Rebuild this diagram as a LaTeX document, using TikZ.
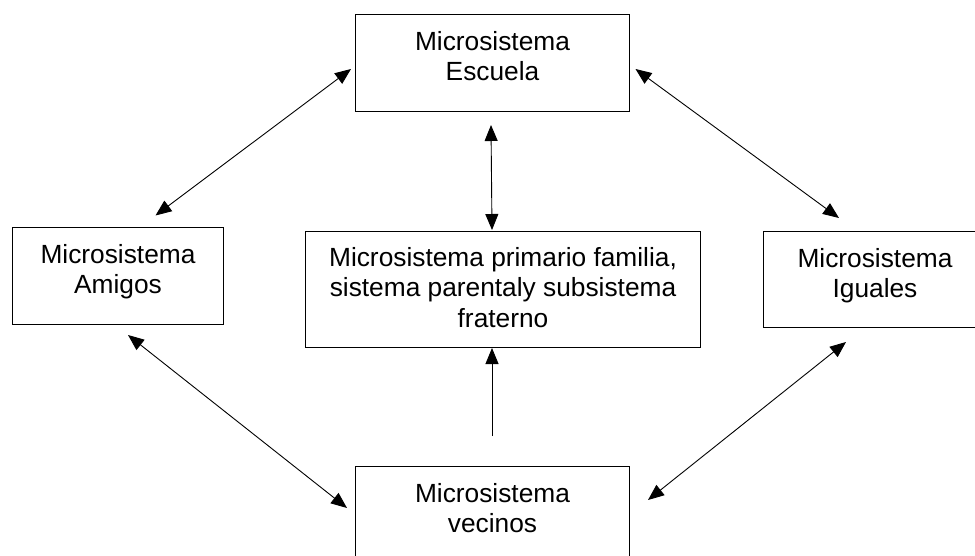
\documentclass[tikz,border=0pt]{standalone}
\usepackage{fontspec}
\setmainfont{Liberation Sans}
\usetikzlibrary{arrows.meta}
\tikzset{
  x=1pt, y=-1pt,
  boxnode/.style={draw=black, line width=1pt, rectangle, inner sep=0pt, anchor=north west},
  txt/.style={anchor=north, inner sep=0pt, align=center, font=\fontsize{26.3}{30.5}\selectfont},
  link/.style={line width=0.9pt, {Triangle[length=16pt,width=13pt]}-{Triangle[length=16pt,width=13pt]}},
  uplink/.style={line width=0.9pt, -{Triangle[length=16pt,width=13pt]}}
}
\begin{document}
\begin{tikzpicture}
\useasboundingbox (0,0) rectangle (975,556);
\clip (0,0) rectangle (975,556);
% boxes
\node[boxnode, minimum width=274pt, minimum height=97pt] (esc) at (355,14) {};
\node[boxnode, minimum width=211pt, minimum height=97pt] (ami) at (12,227) {};
\node[boxnode, minimum width=395pt, minimum height=116pt] (cen) at (305,231) {};
\node[boxnode, minimum width=223pt, minimum height=96pt] (igu) at (763,231) {};
\node[boxnode, minimum width=274pt, minimum height=110pt] (vec) at (355,466) {};
% texts
\node[txt] (escT) at ([yshift=-17pt]esc.north) {Microsistema\\Escuela};
\node[txt] (amiT) at ([yshift=-17pt]ami.north) {Microsistema\\Amigos};
\node[txt] (cenT) at ([yshift=-16pt]cen.north) {Microsistema primario familia,\\sistema parentaly subsistema\\fraterno};
\node[txt] (iguT) at ([yshift=-17pt]igu.north) {Microsistema\\Iguales};
\node[txt] (vecT) at ([yshift=-17pt]vec.north) {Microsistema\\vecinos};
% arrow end points
\coordinate (e1) at (351,69);
\coordinate (a1) at (155.5,215.5);
\coordinate (e2) at (635.5,69);
\coordinate (i1) at (839,218);
\coordinate (e3) at (491,125);
\coordinate (c1) at (492,230);
\coordinate (a2) at (128,335);
\coordinate (v1) at (347,508);
\coordinate (i2) at (846,342);
\coordinate (v2) at (648,500);
\coordinate (v3) at (492,436);
\coordinate (c2) at (492,348);
% connectors
\draw[link] (a1) -- (e1);
\draw[link] (e2) -- (i1);
\draw[link] (e3) -- (c1);
\draw[link] (a2) -- (v1);
\draw[link] (i2) -- (v2);
\draw[uplink] (v3) -- (c2);
\end{tikzpicture}
\end{document}
